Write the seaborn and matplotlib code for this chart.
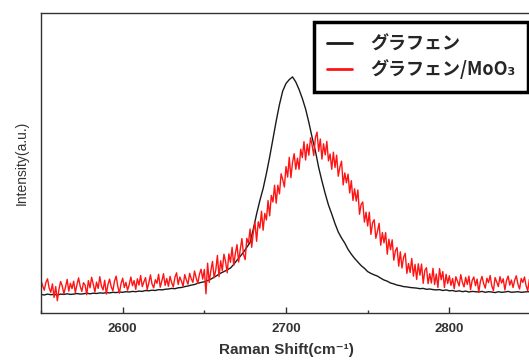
import numpy as np
import pandas as pd
import matplotlib
matplotlib.use("Agg")
import matplotlib.pyplot as plt
from matplotlib.ticker import MultipleLocator
import seaborn as sns

# ---------------- DATA ---------------- #
shift_black = np.arange(2550, 2851, 2)   # cm^-1 grid, graphene
shift_red = np.arange(2550, 2851, 1)     # cm^-1 grid, graphene/MoO3

graphene = [
    6.2, 6.0, 6.3, 6.1, 6.2, 6.0, 6.3, 6.2, 6.4, 6.2,
    6.3, 6.5, 6.3, 6.4, 6.6, 6.4, 6.6, 6.5, 6.7, 6.6,
    6.8, 6.7, 6.9, 6.8, 7.0, 6.9, 7.1, 7.0, 7.2, 7.1,
    7.3, 7.2, 7.5, 7.4, 7.6, 7.5, 7.8, 7.7, 7.9, 8.0,
    8.2, 8.1, 8.4, 8.5, 8.8, 9.0, 9.3, 9.5, 9.9, 10.2,
    10.4, 10.8, 11.3, 11.9, 12.6, 13.3, 13.8, 14.4, 15.0, 16.2,
    17.6, 18.9, 20.3, 21.9, 23.5, 28.0, 33.0, 37.5, 41.5, 46.5,
    52.0, 58.0, 64.0, 69.5, 74.0, 76.5, 77.8, 78.7, 77.0, 74.5,
    71.5, 68.0, 63.5, 58.5, 54.0, 48.5, 44.0, 39.8, 36.0, 33.0,
    29.8, 27.0, 25.0, 23.3, 21.2, 19.6, 18.2, 17.0, 15.8, 14.9,
    13.8, 13.2, 12.7, 12.3, 11.6, 11.0, 10.6, 10.0, 9.7, 9.3,
    9.1, 8.8, 8.7, 8.5, 8.4, 8.3, 8.1, 8.2, 7.9, 8.0,
    7.8, 7.7, 7.8, 7.5, 7.7, 7.4, 7.5, 7.2, 7.4, 7.1,
    7.3, 7.0, 7.2, 7.1, 7.0, 7.2, 6.9, 7.1, 7.0, 6.8,
    7.1, 6.9, 7.0, 7.2, 6.9, 7.0, 7.1, 6.9, 7.0, 7.1,
    7.0,
]

graphene_moo3 = [
    10.8, 9.1, 7.6, 10.2, 11.4, 8.3, 6.9, 9.7, 5.2, 8.8,
    4.1, 7.9, 10.5, 9.0, 6.4, 8.6, 11.2, 7.3, 9.9, 8.1,
    10.6, 6.8, 9.4, 11.7, 8.9, 7.2, 10.1, 9.3, 6.1, 10.8,
    8.4, 11.9, 9.6, 7.0, 10.3, 8.2, 12.1, 9.0, 7.7, 10.9,
    6.3, 9.5, 11.3, 8.7, 7.4, 10.6, 12.3, 8.9, 6.6, 9.8,
    11.6, 8.5, 10.2, 7.6, 9.4, 12.0, 9.1, 10.8, 7.9, 11.4,
    9.3, 12.5, 8.8, 10.4, 11.8, 7.8, 10.0, 12.7, 9.6, 8.4,
    11.1, 9.9, 12.9, 8.6, 10.7, 13.1, 9.2, 11.5, 8.9, 12.2,
    10.1, 8.7, 11.9, 13.4, 9.5, 12.0, 10.6, 8.9, 12.8, 11.0,
    9.6, 13.2, 11.4, 10.2, 14.0, 11.7, 9.9, 12.9, 14.6, 11.3,
    14.5, 6.4, 16.6, 10.2, 14.2, 17.2, 11.8, 14.3, 19.2, 12.1,
    17.4, 14.1, 19.6, 17.1, 13.4, 19.7, 16.9, 21.9, 15.9, 19.9,
    22.8, 17.0, 21.2, 24.8, 19.5, 17.8, 24.9, 23.2, 28.0, 21.9,
    26.9, 30.2, 23.9, 30.4, 28.3, 33.9, 27.6, 33.2, 31.0, 37.5,
    32.4, 39.2, 37.0, 42.6, 36.6, 42.6, 39.7, 46.4, 44.5, 42.0,
    48.8, 45.3, 51.9, 45.1, 50.2, 53.1, 47.9, 51.6, 47.9, 54.6,
    51.8, 57.1, 51.0, 56.3, 52.6, 58.4, 55.9, 52.5, 58.5, 60.3,
    53.9, 58.0, 51.3, 56.4, 52.7, 57.2, 50.7, 53.0, 47.9, 53.6,
    48.5, 52.6, 45.6, 48.6, 50.6, 42.7, 46.7, 43.4, 46.3, 40.0,
    44.1, 37.5, 41.4, 37.3, 41.0, 32.9, 36.2, 37.0, 30.3, 33.6,
    29.0, 33.6, 26.2, 30.1, 31.1, 24.9, 27.3, 29.9, 22.6, 26.8,
    23.4, 26.8, 19.6, 24.6, 21.1, 24.4, 17.6, 20.8, 21.8, 15.6,
    20.4, 15.0, 18.6, 19.9, 13.2, 16.5, 13.5, 18.2, 12.3, 16.2,
    11.2, 16.4, 12.6, 16.3, 9.9, 14.2, 15.1, 9.8, 13.1, 10.0,
    14.9, 9.5, 13.0, 8.5, 14.8, 11.1, 13.8, 8.5, 12.9, 9.8,
    12.4, 9.2, 11.5, 8.1, 12.1, 10.6, 9.0, 12.8, 10.2, 8.7,
    11.9, 9.5, 12.3, 7.8, 10.9, 12.0, 9.1, 11.3, 6.9, 10.5,
    12.2, 9.8, 8.3, 11.6, 10.1, 12.5, 9.0, 7.5, 11.8, 10.4,
    8.8, 12.1, 10.0, 11.4, 7.7, 10.8, 12.3, 9.3, 11.0, 8.5,
    10.9, 12.4, 9.6, 8.0, 11.5, 10.2, 12.0, 9.1, 7.4, 11.2,
    10.0,
]

labels = ["グラフェン", "グラフェン/MoO₃"]
colors = ["#1a1a1a", "#ff1414"]

df = pd.DataFrame({
    "shift": np.concatenate([shift_black, shift_red]),
    "intensity": graphene + graphene_moo3,
    "sample": [labels[0]] * len(shift_black) + [labels[1]] * len(shift_red),
})

# ---------------- STYLE ---------------- #
sns.set_style("white")
plt.rcParams["font.family"] = ["Noto Sans CJK JP", "DejaVu Sans"]

fig = plt.figure(figsize=(5.29, 3.6), dpi=100)
ax = fig.add_axes([41 / 529, 47 / 360, 490 / 529, 300 / 360])

sns.lineplot(data=df, x="shift", y="intensity", hue="sample",
             palette=colors, estimator=None, linewidth=1.0, ax=ax)

ax.set_xlim(2550, 2850)
ax.set_ylim(0, 100)
ax.set_yticks([])
ax.xaxis.set_major_locator(MultipleLocator(100))
ax.xaxis.set_minor_locator(MultipleLocator(50))
ax.tick_params(axis="x", which="major", direction="in", length=4,
               width=1, color="#333333", bottom=True, pad=7.5)
ax.tick_params(axis="x", which="minor", direction="in", length=2,
               width=1, color="#333333", bottom=True)
for lab in ax.get_xticklabels():
    lab.set_family(["Liberation Sans", "DejaVu Sans"])
    lab.set_fontweight("bold")
    lab.set_fontsize(9.5)
    lab.set_color("#333333")

for side in ["left", "bottom", "top", "right"]:
    ax.spines[side].set_color("#333333")
    ax.spines[side].set_linewidth(1.0)

ax.set_xlabel("Raman Shift(cm⁻¹)", fontsize=11, fontweight="bold",
              family=["Liberation Sans", "DejaVu Sans"], color="#333333")
ax.xaxis.set_label_coords(0.5, -0.1)
ax.set_ylabel("Intensity(a.u.)", fontsize=10,
              family=["Liberation Sans", "DejaVu Sans"], color="#333333")
ax.yaxis.set_label_coords(-0.025, 0.5)

# ---------------- LEGEND ---------------- #
handles, _ = ax.get_legend_handles_labels()
for h in handles:
    h.set_linewidth(2)
leg = ax.legend(handles, labels, loc="upper right",
                bbox_to_anchor=(528 / 529, 338 / 360),
                bbox_transform=fig.transFigure, borderaxespad=0,
                fancybox=False, framealpha=1, edgecolor="black",
                handlelength=1.4, handletextpad=1.0, labelspacing=0.3,
                borderpad=0.7,
                prop={"family": ["Noto Sans CJK JP", "DejaVu Sans"],
                      "weight": "bold", "size": 13})
leg.get_frame().set_linewidth(2.5)

plt.savefig("out.png", dpi=100)
